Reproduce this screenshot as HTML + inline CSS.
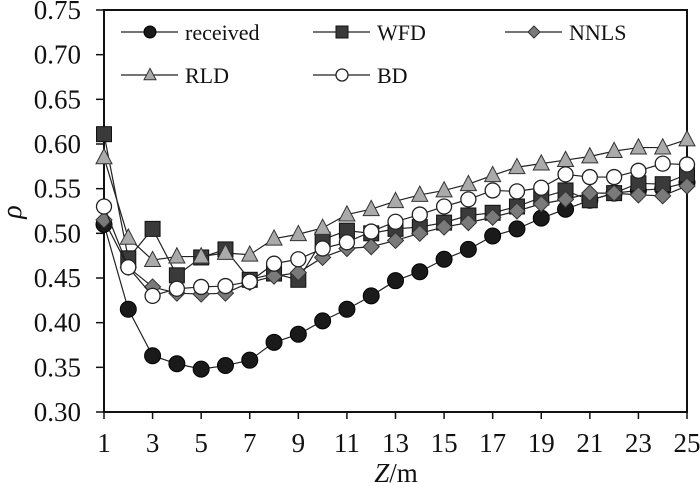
<!DOCTYPE html>
<html><head><meta charset="utf-8"><style>
body{margin:0;background:#fff}
svg{display:block;font-family:"Liberation Serif",serif}
</style></head><body>
<svg id="chart" width="700" height="483" viewBox="0 0 700 483" xmlns="http://www.w3.org/2000/svg"></svg>
<script>
const zValues=[1,2,3,4,5,6,7,8,9,10,11,12,13,14,15,16,17,18,19,20,21,22,23,24,25];
const received=[0.51,0.415,0.363,0.354,0.348,0.352,0.358,0.378,0.387,0.402,0.415,0.430,0.447,0.457,0.471,0.482,0.497,0.505,0.517,0.527,0.537,0.545,0.548,0.550,0.557];
const wfd=[0.611,0.472,0.505,0.453,0.473,0.482,0.448,0.455,0.448,0.493,0.503,0.500,0.505,0.507,0.512,0.520,0.523,0.530,0.540,0.548,0.537,0.545,0.556,0.555,0.566];
const nnls=[0.515,0.462,0.440,0.433,0.432,0.433,0.445,0.452,0.456,0.473,0.483,0.485,0.492,0.500,0.507,0.512,0.518,0.525,0.533,0.538,0.545,0.545,0.543,0.542,0.553];
const rld=[0.585,0.495,0.470,0.474,0.474,0.478,0.476,0.494,0.499,0.506,0.521,0.527,0.536,0.543,0.548,0.555,0.565,0.574,0.578,0.582,0.586,0.592,0.596,0.596,0.605];
const bd=[0.530,0.462,0.430,0.438,0.440,0.441,0.446,0.466,0.471,0.483,0.490,0.502,0.513,0.521,0.530,0.538,0.548,0.547,0.551,0.566,0.563,0.563,0.570,0.578,0.577];
const yTicks=[0.30,0.35,0.40,0.45,0.50,0.55,0.60,0.65,0.70,0.75];
const xTicks=[1,3,5,7,9,11,13,15,17,19,21,23,25];

const NS="http://www.w3.org/2000/svg";
const svg=document.getElementById('chart');
const X0=104,X1=687,Y0=412,Y1=10;
const xs=v=>X0+(v-1)/24*(X1-X0);
const ys=v=>Y0-(v-0.30)/0.45*(Y0-Y1);
function mk(t,a,p){const e=document.createElementNS(NS,t);for(const k in a)e.setAttribute(k,a[k]);(p||svg).appendChild(e);return e;}

const frame=mk('path',{d:`M${X0},${Y1}H${X1}V${Y0}H${X0}Z`,fill:'none',stroke:'#111','stroke-width':2});



yTicks.forEach(v=>{
  const tk=mk('line',{x1:X0-8,x2:X0,y1:ys(v),y2:ys(v),stroke:'#111','stroke-width':1.5});
  
  
  const t=mk('text',{x:81,y:ys(v)+9,'text-anchor':'end','font-size':27,fill:'#111'});
  t.textContent=v.toFixed(2);
  
  
});
xTicks.forEach(v=>{
  const tk=mk('line',{x1:xs(v),x2:xs(v),y1:Y0,y2:Y0+7,stroke:'#111','stroke-width':1.5});
  
  
  const t=mk('text',{x:xs(v),y:Y0+40,'text-anchor':'middle','font-size':27,fill:'#111'});
  t.textContent=String(v);
  
  
});
const xt=mk('text',{x:396,y:482,'text-anchor':'middle','font-size':27,fill:'#111'});
xt.innerHTML='<tspan font-style="italic">Z</tspan>/m';


const yt=mk('text',{x:0,y:0,'text-anchor':'middle','font-size':28,'font-style':'italic',fill:'#111',transform:'translate(21,212) rotate(-90)'});
yt.textContent='ρ';



function marker(type,x,y,s,g){
  let e;
  if(type==='circle') e=mk('circle',{cx:x,cy:y,r:s/2,fill:'#1a1a1a',stroke:'#000','stroke-width':1},g);
  else if(type==='square') e=mk('rect',{x:x-s/2,y:y-s/2,width:s,height:s,fill:'#3a3a3a',stroke:'#111','stroke-width':1},g);
  else if(type==='diamond') e=mk('polygon',{points:`${x},${y-s/2} ${x+s/2},${y} ${x},${y+s/2} ${x-s/2},${y}`,fill:'#7a7a7a',stroke:'#333','stroke-width':1},g);
  else if(type==='triangle') e=mk('polygon',{points:`${x},${y-s*0.55} ${x+s/2},${y+s*0.4} ${x-s/2},${y+s*0.4}`,fill:'#aaa',stroke:'#333','stroke-width':1},g);
  else e=mk('circle',{cx:x,cy:y,r:s/2,fill:'#fff',stroke:'#222','stroke-width':1.3},g);
  return e;
}
const series=[
  {name:'received',data:received,type:'circle',size:16},
  {name:'WFD',data:wfd,type:'square',size:15},
  {name:'NNLS',data:nnls,type:'diamond',size:16},
  {name:'RLD',data:rld,type:'triangle',size:16},
  {name:'BD',data:bd,type:'open',size:15}
];
[0,1,2,3,4].forEach(i=>{
  const s=series[i];
  const g=mk('g',{});
  
  
  const d=s.data.map((v,j)=>(j?'L':'M')+xs(zValues[j])+','+ys(v)).join('');
  const l=mk('path',{d:d,fill:'none',stroke:'#222','stroke-width':1.2},g);
  
  
  s.data.forEach((v,j)=>{
    const m=marker(s.type,xs(zValues[j]),ys(v),s.size,g);
    
    
  });
});
const legPos=[[121,32],[313,32],[505,32],[121,75],[313,75]];
series.forEach((s,i)=>{
  const [x,y]=legPos[i];
  const g=mk('g',{});
  
  
  mk('line',{x1:x,x2:x+57,y1:y,y2:y,stroke:'#222','stroke-width':1.3},g);
  marker(s.type,x+29,y,12,g);
  const t=mk('text',{x:x+64,y:y+8,'font-size':22,fill:'#111'},g);
  t.textContent=s.name;
});
</script>
</body></html>
